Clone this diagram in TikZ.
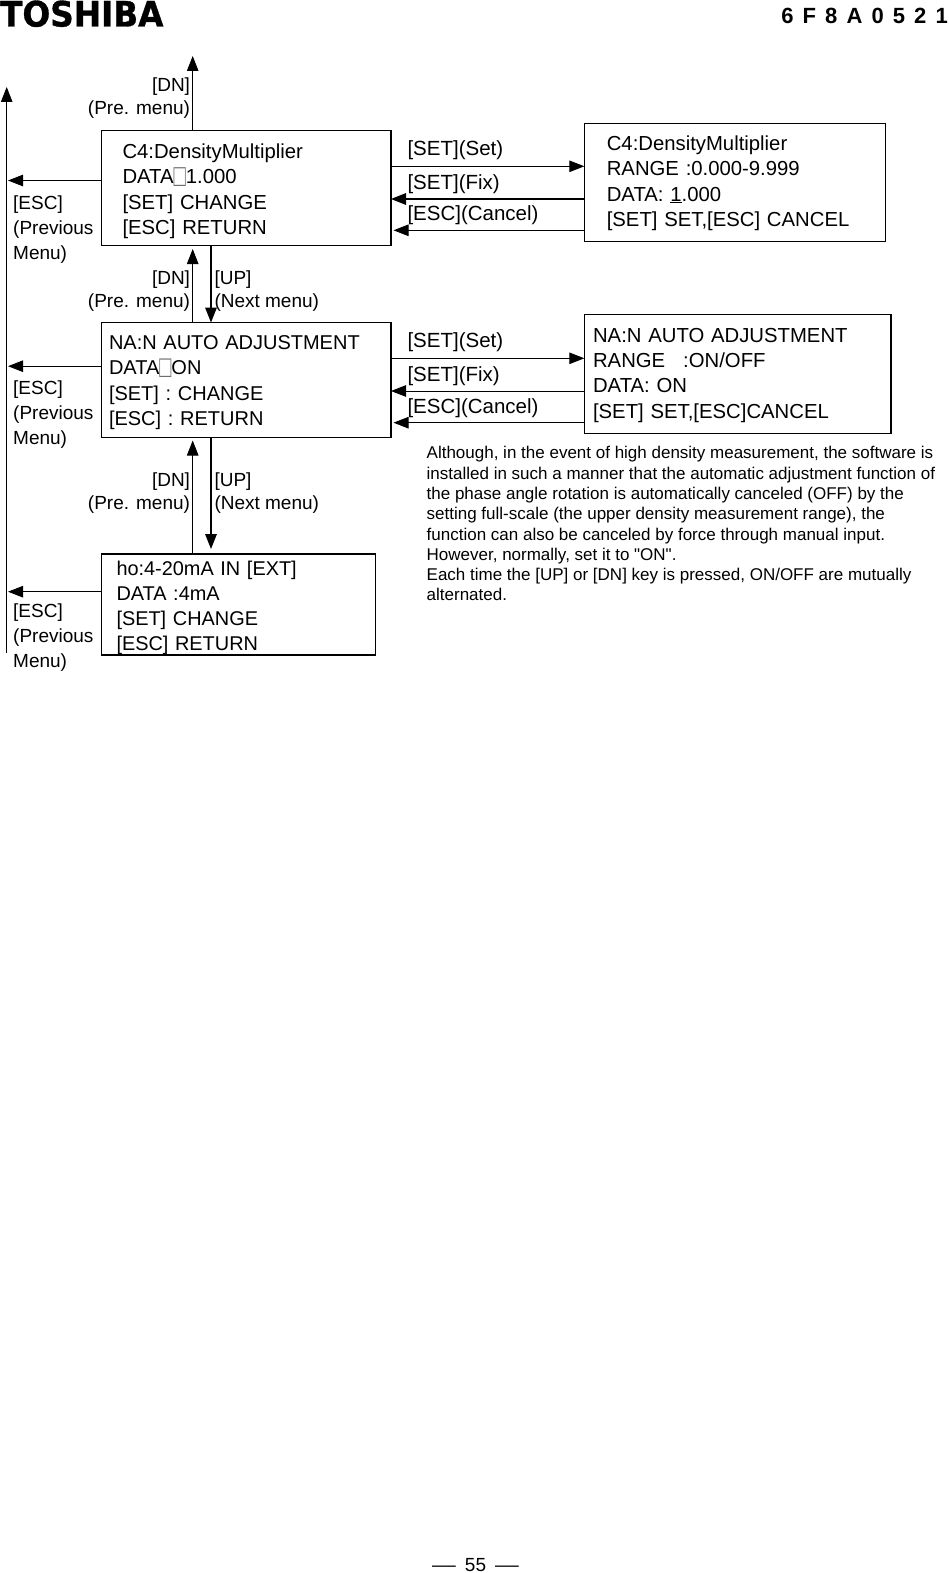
\documentclass[tikz,border=0pt]{standalone}
\usepackage{fontspec}
\setmainfont{Liberation Sans}
\newfontfamily\logofont{DejaVu Sans}[BoldFeatures={FakeBold=1}]
\newfontfamily\notefont{Liberation Sans}
\usetikzlibrary{arrows.meta,positioning}
\definecolor{glyphgray}{RGB}{110,110,110}
\newcommand{\nochar}{\raisebox{-3pt}{\color{glyphgray}\scalebox{1}[1.55]{□}}}

\tikzset{
  screen/.style={draw, anchor=north west, align=left, inner ysep=0pt, outer sep=0pt,
                 line width=1.5pt},
  toptext/.style={execute at begin node={\rule{0pt}{#1}}},
  keylabel/.style={inner sep=0pt, outer sep=0pt, font=\fontsize{20.5}{20.5}\selectfont, anchor=base west},
  navlabel/.style={inner sep=0pt, outer sep=0pt, align=right, anchor=north east,
                   font=\fontsize{19}{23.2}\selectfont},
  nextlabel/.style={navlabel, align=left, anchor=north west},
  esclabel/.style={inner sep=0pt, outer sep=0pt, align=left, anchor=north west,
                   font=\fontsize{19}{25}\selectfont},
  thinarrow/.style={line width=0.9pt, -{Triangle[length=15pt,width=11.5pt]}},
  thickarrow/.style={line width=1.7pt, -{Triangle[length=15pt,width=11.5pt]}}
}

\begin{document}
\begin{tikzpicture}[x=1pt, y=-1pt]
  \useasboundingbox (0,0) rectangle (949,1573);

  % header and footer
  \node[inner sep=0pt, anchor=base west, xscale=0.99, yscale=1.06] (logo) at (0,26.5)
    {\logofont\fontsize{33}{33}\selectfont\bfseries TOSHIBA};
  \node[inner sep=0pt, anchor=base east, font=\fontsize{22}{22}\selectfont\bfseries] (docno) at (948,24)
    {\spaceskip=9.1pt 6 F 8 A 0 5 2 1};
  \node[inner sep=0pt, anchor=base, font=\fontsize{19}{19}\selectfont] (pageno) at (475.5,1571.5)
    {\scalebox{1.25}[1]{—}\hspace{9pt}55\hspace{9pt}\scalebox{1.25}[1]{—}};

  % menu screens
  \node[screen, toptext=21pt, font=\fontsize{20.3}{25.3}\selectfont, minimum width=289.5pt, minimum height=115pt, text width=247.5pt, inner xsep=21pt] (c4Menu) at (101.5,130.5)
    {C4:DensityMultiplier\\DATA\nochar1.000\\{}[SET] CHANGE\\{}[ESC] RETURN};
  \node[screen, toptext=19pt, font=\fontsize{20}{25.3}\selectfont, minimum width=289.5pt, minimum height=115pt, text width=274.5pt, inner xsep=7.5pt] (naMenu) at (101.5,322.5)
    {NA:N AUTO ADJUSTMENT\\DATA\nochar ON\\{}[SET] : CHANGE\\{}[ESC] : RETURN};
  \node[screen, toptext=21pt, font=\fontsize{19.9}{25.2}\selectfont, line width=1.2pt, minimum width=274pt, minimum height=101pt, text width=244pt, inner xsep=15pt] (hoMenu) at (101.5,554)
    {ho:4-20mA IN [EXT]\\DATA :4mA\\{}[SET] CHANGE\\{}[ESC] RETURN};

  % setting screens
  \node[screen, toptext=16pt, font=\fontsize{20.3}{25.3}\selectfont, line width=1.2pt, minimum width=301.5pt, minimum height=118pt, text width=256.5pt, inner xsep=22.5pt] (c4Edit) at (584.3,123.5)
    {C4:DensityMultiplier\\RANGE :0.000-9.999\\DATA: \underline{1}.000\\{}[SET] SET,[ESC] CANCEL};
  \node[screen, toptext=17pt, font=\fontsize{20.3}{25.3}\selectfont, line width=1.4pt, minimum width=306.5pt, minimum height=119pt, text width=289pt, inner xsep=8.7pt] (naEdit) at (584.3,314.3)
    {NA:N AUTO ADJUSTMENT\\RANGE\hspace{18pt}:ON/OFF\\DATA: ON\\{}[SET] SET,[ESC]CANCEL};

  % note
  \node[inner sep=0pt, anchor=north west, align=left, font=\notefont\fontsize{17}{20.3}\selectfont] (note) at (426.5,446.3)
    {Although, in the event of high density measurement, the software is\\
     installed in such a manner that the automatic adjustment function of\\
     the phase angle rotation is automatically canceled (OFF) by the\\
     setting full-scale (the upper density measurement range), the\\
     function can also be canceled by force through manual input.\\
     However, normally, set it to "ON".\\
     Each time the [UP] or [DN] key is pressed, ON/OFF are mutually\\
     alternated.};

  % free ends
  \coordinate (topEnd) at (192.7,56);
  \coordinate (escEnd) at (8,400);
  \coordinate (backStart) at (6.7,652.7);
  \coordinate (backEnd) at (6.7,87);

  % vertical moves
  \draw[thinarrow] ([xshift=-53.55pt]c4Menu.north) -- (topEnd);
  \draw[thinarrow, shorten >=3.5pt] ([xshift=-53.55pt]naMenu.north) -- ([xshift=-53.55pt]c4Menu.south);
  \draw[thickarrow] ([xshift=-35.25pt]c4Menu.south) -- ([xshift=-35.25pt]naMenu.north);
  \draw[thinarrow, shorten >=3pt] ([xshift=-45.8pt]hoMenu.north) -- ([xshift=-53.55pt]naMenu.south);
  \draw[thickarrow, shorten >=5pt] ([xshift=-35.25pt]naMenu.south) -- ([xshift=-27.5pt]hoMenu.north);

  % back to previous menu
  \draw[thinarrow] (backStart) -- (backEnd);
  \draw[thinarrow] ([yshift=7.5pt]c4Menu.west) -- ([yshift=7.5pt]c4Menu.west -| escEnd);
  \draw[thinarrow] ([yshift=13.8pt]naMenu.west) -- ([yshift=13.8pt]naMenu.west -| escEnd);
  \draw[thinarrow] ([yshift=12.8pt]hoMenu.west) -- ([yshift=12.8pt]hoMenu.west -| escEnd);

  % first row, set / fix / cancel
  \draw[thinarrow] ([yshift=21.7pt]c4Menu.east) -- ([yshift=21.7pt]c4Menu.east -| c4Edit.west);
  \draw[thickarrow] ([yshift=-16.5pt]c4Edit.west) -- ([yshift=-16.5pt]c4Edit.west -| c4Menu.east);
  \draw[thinarrow, shorten >=2.5pt] ([yshift=-47.8pt]c4Edit.west) -- ([yshift=-47.8pt]c4Edit.west -| c4Menu.east);

  % second row, set / fix / cancel
  \draw[thinarrow] ([yshift=21.7pt]naMenu.east) -- ([yshift=21.7pt]naMenu.east -| naEdit.west);
  \draw[thinarrow] ([yshift=-17.2pt]naEdit.west) -- ([yshift=-17.2pt]naEdit.west -| naMenu.east);
  \draw[thinarrow, shorten >=2.5pt] ([yshift=-48.9pt]naEdit.west) -- ([yshift=-48.9pt]naEdit.west -| naMenu.east);

  % key labels
  \node[navlabel] (dnTop) at (190,78) {[DN]\\(Pre. menu)};
  \node[navlabel] (dnOne) at (190,271) {[DN]\\(Pre. menu)};
  \node[nextlabel] (upOne) at (214.5,271) {[UP]\\(Next menu)};
  \node[navlabel] (dnTwo) at (190,473) {[DN]\\(Pre. menu)};
  \node[nextlabel] (upTwo) at (214.5,473) {[UP]\\(Next menu)};

  \node[esclabel] (escOne) at (13.2,196) {[ESC]\\(Previous\\Menu)};
  \node[esclabel] (escTwo) at (13.2,381) {[ESC]\\(Previous\\Menu)};
  \node[esclabel] (escThree) at (13.2,603.5) {[ESC]\\(Previous\\Menu)};

  \node[keylabel] (setOne) at (407.5,156) {[SET](Set)};
  \node[keylabel] (fixOne) at (407.5,189.5) {[SET](Fix)};
  \node[keylabel] (canOne) at (407.5,220.5) {[ESC](Cancel)};
  \node[keylabel] (setTwo) at (407.5,347.7) {[SET](Set)};
  \node[keylabel] (fixTwo) at (407.5,381.5) {[SET](Fix)};
  \node[keylabel] (canTwo) at (407.5,413) {[ESC](Cancel)};
\end{tikzpicture}
\end{document}
